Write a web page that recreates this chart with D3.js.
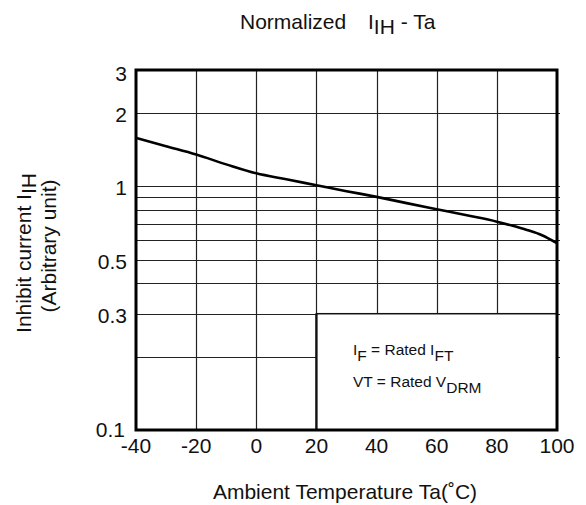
<!DOCTYPE html>
<html>
<head>
<meta charset="utf-8">
<script src="https://cdn.jsdelivr.net/npm/d3@7"></script>
<style>
  html, body { margin: 0; padding: 0; background: #fff; }
  text { font-family: "Liberation Sans", Arial, sans-serif; fill: #111; }
</style>
</head>
<body>
<svg id="chart" width="586" height="505"></svg>
<script>
// ---- data ----
const temps = [-40, -30, -20, -10, 0, 10, 20, 30, 40, 50, 60, 70, 80, 85, 90, 95, 100];
const ihValues = [1.58, 1.46, 1.35, 1.23, 1.13, 1.068, 1.01, 0.955, 0.905, 0.853, 0.805, 0.76, 0.716, 0.69, 0.662, 0.63, 0.584];
const xTicks = [-40, -20, 0, 20, 40, 60, 80, 100];
const yTickLabels = [3, 2, 1, 0.5, 0.3, 0.1];
const yGridValues = [0.2, 0.3, 0.4, 0.5, 0.6, 0.7, 0.8, 0.9, 1, 2];
const xGridValues = [-20, 0, 20, 40, 60, 80];
const noteBox = { x0: 20, x1: 100, y0: 0.1, y1: 0.3 };

const svg = d3.select("#chart");
const L = 136, R = 557, T = 70, B = 430;

const x = d3.scaleLinear().domain([-40, 100]).range([L, R]);
const y = d3.scaleLog().domain([0.1, 3]).range([B, T]);

// gridlines
const g = svg.append("g");
g.selectAll("line.h").data(yGridValues).join("line")
  .attr("x1", L).attr("x2", R + 3)
  .attr("y1", d => Math.round(y(d)) + 0.5).attr("y2", d => Math.round(y(d)) + 0.5)
  .attr("stroke", "#222").attr("stroke-width", 1.2);
g.selectAll("line.v").data(xGridValues).join("line")
  .attr("x1", d => Math.round(x(d)) + 0.5).attr("x2", d => Math.round(x(d)) + 0.5)
  .attr("y1", T).attr("y2", B)
  .attr("stroke", "#222").attr("stroke-width", 1.2);

// note box (covers grid)
svg.append("rect")
  .attr("x", x(noteBox.x0)).attr("y", y(noteBox.y1))
  .attr("width", x(noteBox.x1) - x(noteBox.x0))
  .attr("height", y(noteBox.y0) - y(noteBox.y1))
  .attr("fill", "#fff").attr("stroke", "#111").attr("stroke-width", 1.5);
svg.append("line")
  .attr("x1", x(noteBox.x0)).attr("x2", x(noteBox.x0))
  .attr("y1", y(noteBox.y1)).attr("y2", B)
  .attr("stroke", "#111").attr("stroke-width", 2.2);

const n1 = svg.append("text").attr("x", 353).attr("y", 355).attr("font-size", 15.5);
n1.append("tspan").text("I");
n1.append("tspan").attr("dy", 6).text("F");
n1.append("tspan").attr("dy", -6).text(" = Rated I");
n1.append("tspan").attr("dy", 6).text("FT");
const n2 = svg.append("text").attr("x", 353).attr("y", 387).attr("font-size", 15.5);
n2.append("tspan").text("VT = Rated V");
n2.append("tspan").attr("dy", 6).text("DRM");

// curve
const line = d3.line().x(d => x(d[0])).y(d => y(d[1])).curve(d3.curveMonotoneX);
svg.append("path")
  .datum(temps.map((t, i) => [t, ihValues[i]]))
  .attr("d", line)
  .attr("fill", "none").attr("stroke", "#000").attr("stroke-width", 2.6);

// frame
svg.append("rect").attr("x", L).attr("y", T).attr("width", R - L).attr("height", B - T)
  .attr("fill", "none").attr("stroke", "#000").attr("stroke-width", 3);

// x tick labels
svg.append("g").selectAll("text").data(xTicks).join("text")
  .attr("x", d => x(d)).attr("y", 453)
  .attr("text-anchor", "middle").attr("font-size", 21)
  .text(d => d);

// y tick labels
svg.append("g").selectAll("text").data(yTickLabels).join("text")
  .attr("x", d => d === 0.1 ? 125 : 127)
  .attr("y", d => y(d) + (d === 0.1 ? 7 : d === 3 ? 11 : 9))
  .attr("text-anchor", "end").attr("font-size", 21)
  .text(d => d);

// title
const t1 = svg.append("text").attr("x", 240).attr("y", 29).attr("font-size", 21);
t1.text("Normalized");
const t2 = svg.append("text").attr("x", 368).attr("y", 29).attr("font-size", 21);
t2.append("tspan").text("I");
t2.append("tspan").attr("dy", 5).text("IH");
t2.append("tspan").attr("dy", -5).text(" - Ta");

// x axis title
svg.append("text").attr("x", 345).attr("y", 499).attr("text-anchor", "middle")
  .attr("font-size", 21).text("Ambient Temperature Ta(˚C)");

// y axis title
const yl1 = svg.append("text").attr("transform", "translate(31,253) rotate(-90)")
  .attr("text-anchor", "middle").attr("font-size", 21);
yl1.append("tspan").text("Inhibit current I");
yl1.append("tspan").attr("dy", 5).text("IH");
svg.append("text").attr("transform", "translate(56,246) rotate(-90)")
  .attr("text-anchor", "middle").attr("font-size", 21).text("(Arbitrary unit)");
</script>
</body>
</html>
